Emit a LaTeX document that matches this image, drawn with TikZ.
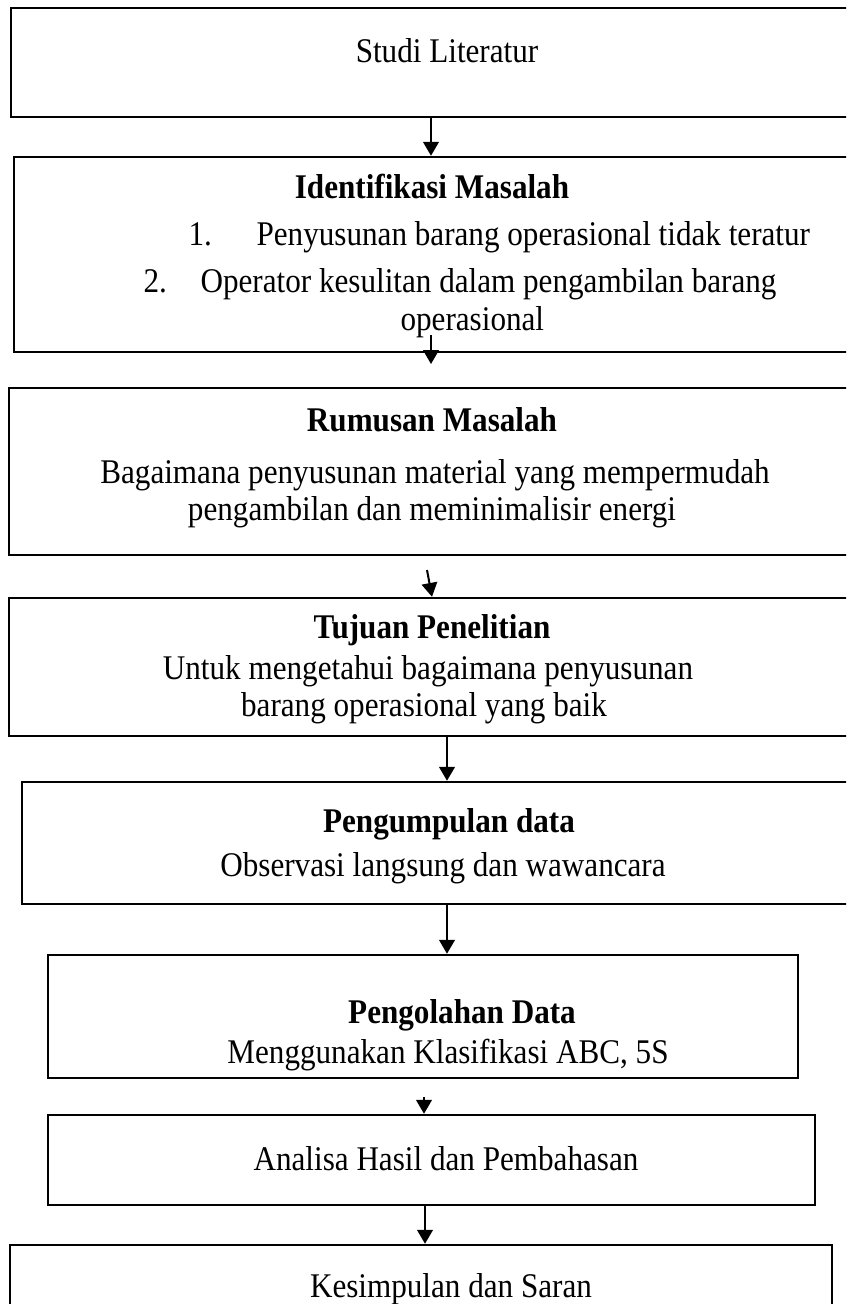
\documentclass[tikz,border=0pt]{standalone}
\usepackage{fontspec}
\setmainfont[FakeStretch=0.9]{Liberation Serif}
\usetikzlibrary{arrows.meta,fit}

\begin{document}
\begin{tikzpicture}[x=0.3468pt,y=-0.3468pt,
    kotak/.style={draw,line width=0.85pt,inner sep=0pt},
    panah/.style={line width=0.7pt,-{Triangle[length=4.8pt,width=5.4pt]}},
    teks/.style={anchor=base,inner sep=0pt,font=\fontsize{12}{14}\selectfont},
    judul/.style={teks,font=\fontsize{12}{14}\selectfont\bfseries}]
    \useasboundingbox (0,0) rectangle (846,1304);
    \clip (0,0) rectangle (846,1304);
    \node[kotak,fit={(11,8) (850,117)}] (studi) {};
    \node[kotak,fit={(14,157) (850,352)}] (idm) {};
    \node[kotak,fit={(9,388) (850,555)}] (rms) {};
    \node[kotak,fit={(9,598) (850,736)}] (tjn) {};
    \node[kotak,fit={(22,782) (850,904)}] (kmp) {};
    \node[kotak,fit={(48,955) (798,1078)}] (olh) {};
    \node[kotak,fit={(48,1115) (815,1205)}] (ans) {};
    \node[kotak,fit={(10,1245) (832,1340)}] (ksm) {};
    \node[teks] (studit) at (447,62) {Studi Literatur};
    \node[judul] (idmj) at (432,198) {Identifikasi Masalah};
    \node[teks,anchor=base west] (idm1n) at (188,245) {1.};
    \node[teks,anchor=base west] (idm1) at (256,245) {Penyusunan barang operasional tidak teratur};
    \node[teks,anchor=base west] (idm2n) at (143,292) {2.};
    \node[teks,anchor=base west] (idm2) at (200,292) {Operator kesulitan dalam pengambilan barang};
    \node[teks,anchor=base west] (idm3) at (400,330) {operasional};
    \node[judul] (rmsj) at (432,431) {Rumusan Masalah};
    \node[teks] (rms1) at (435,483) {Bagaimana penyusunan material yang mempermudah};
    \node[teks] (rms2) at (432,520) {pengambilan dan meminimalisir energi};
    \node[judul] (tjnj) at (432,638) {Tujuan Penelitian};
    \node[teks] (tjn1) at (428,679) {Untuk mengetahui bagaimana penyusunan};
    \node[teks] (tjn2) at (424,716) {barang operasional yang baik};
    \node[judul] (kmpj) at (449,832) {Pengumpulan data};
    \node[teks] (kmp1) at (443,876) {Observasi langsung dan wawancara};
    \node[judul] (olhj) at (462,1023) {Pengolahan Data};
    \node[teks] (olh1) at (448,1063) {Menggunakan Klasifikasi ABC, 5S};
    \node[teks] (anst) at (446,1170) {Analisa Hasil dan Pembahasan};
    \node[teks] (ksmt) at (451,1297) {Kesimpulan dan Saran};
    \coordinate (a1) at (431,0);
    \coordinate (a2s) at (431,335);
    \coordinate (a2e) at (431,364);
    \coordinate (a3s) at (427,570);
    \coordinate (a3) at (432,0);
    \coordinate (a4) at (447,0);
    \coordinate (a6s) at (424,1097);
    \coordinate (a7) at (425,0);
    \draw[panah] (studi.south -| a1) -- (idm.north -| a1);
    \draw[panah] (a2s) -- (a2e);
    \draw[panah] (a3s) -- (tjn.north -| a3);
    \draw[panah] (tjn.south -| a4) -- (kmp.north -| a4);
    \draw[panah] (kmp.south -| a4) -- (olh.north -| a4);
    \draw[panah] (a6s) -- (ans.north -| a6s);
    \draw[panah] (ans.south -| a7) -- (ksm.north -| a7);
\end{tikzpicture}
\end{document}
